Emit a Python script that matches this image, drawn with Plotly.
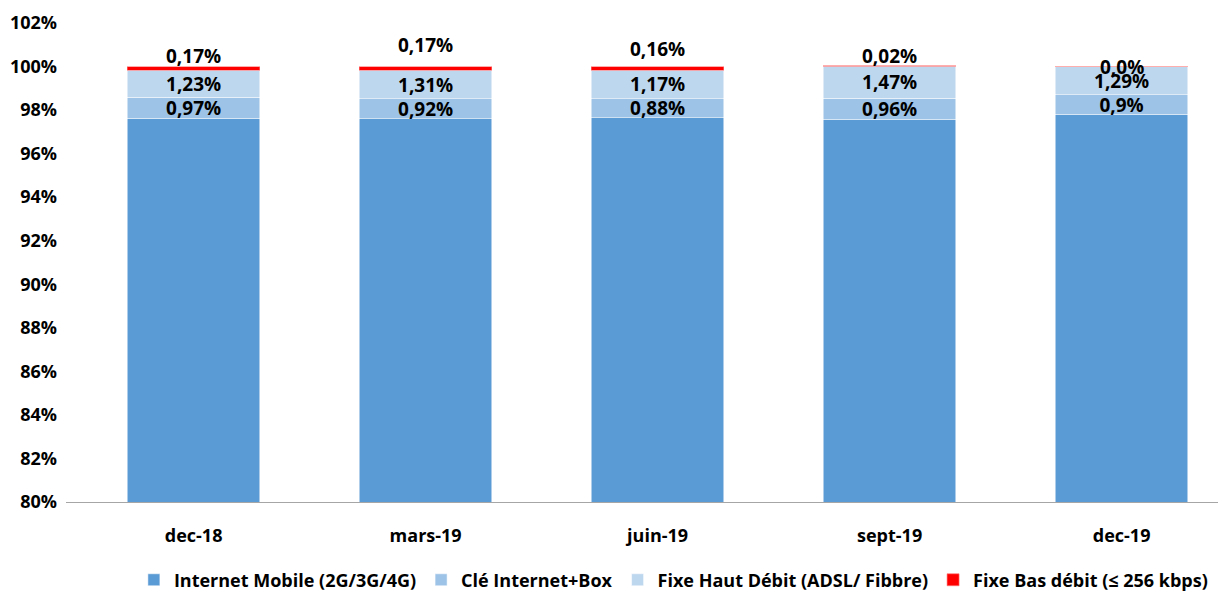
import plotly.graph_objects as go

categories = ["dec-18", "mars-19", "juin-19", "sept-19", "dec-19"]

mobile = [97.63, 97.60, 97.64, 97.58, 97.8]
cle = [0.97, 0.92, 0.88, 0.96, 0.9]
# juin-19 segment is drawn up to 100% in the picture (its label reads 1,17%)
haut = [1.23, 1.31, 1.32, 1.47, 1.29]
bas = [0.17, 0.17, 0.16, 0.02, 0.0]

mobile_lbl = ["97,63%", "97,60%", "97,64%", "97,58%", "97,8%"]
cle_lbl = ["0,97%", "0,92%", "0,88%", "0,96%", "0,9%"]
haut_lbl = ["1,23%", "1,31%", "1,17%", "1,47%", "1,29%"]
bas_lbl = ["0,17%", "0,17%", "0,16%", "0,02%", "0,0%"]

tick_vals = [80, 82, 84, 86, 88, 90, 92, 94, 96, 98, 100, 102]
tick_text = [f"{v}%" for v in tick_vals]

FONT = "Open Sans"
LBL = dict(family=FONT, size=19, color="black", weight="bold")

# hairline segments look pink in the reference (anti-aliased red)
bas_fill = ["#FF0000", "#FF0000", "#FF0000", "#FF9A9A", "#FF9A9A"]

series = [
    ("Internet Mobile (2G/3G/4G)", mobile, mobile_lbl, "#5B9BD5"),
    ("Clé Internet+Box", cle, cle_lbl, "#9DC3E6"),
    ("Fixe Haut Débit (ADSL/ Fibbre)", haut, haut_lbl, "#BDD7EE"),
]

fig = go.Figure()
for name, vals, lbls, col in series:
    fig.add_trace(go.Bar(
        x=categories, y=vals, name=name,
        marker=dict(color=col, line=dict(color="white", width=0.5)),
        text=lbls, textposition="inside", insidetextanchor="middle",
        textfont=LBL, constraintext="none",
    ))
fig.add_trace(go.Bar(
    x=categories, y=bas, name="Fixe Bas débit (≤ 256 kbps)",
    marker=dict(color=bas_fill, line=dict(color="rgba(255,120,120,0.6)", width=1)),
    textposition="none",
))

# labels for the thin top segment, placed above the stacks
top_shift = [11, 22, 18, 10, 0]
for k, c in enumerate(categories):
    total = mobile[k] + cle[k] + haut[k] + bas[k]
    fig.add_annotation(x=c, y=total, text=bas_lbl[k], showarrow=False,
                       yanchor="middle", yshift=top_shift[k], font=LBL)

# the page has an 8px body margin, so the figure is 8px smaller than the window
fig.update_layout(
    barmode="stack", bargap=0.43,
    width=1218, height=584,
    margin=dict(l=58, r=0, t=15, b=90, autoexpand=False),
    paper_bgcolor="white", plot_bgcolor="white",
    uniformtext=dict(minsize=19, mode="show"),
    font=dict(family=FONT, color="black"),
    legend=dict(orientation="h", x=0.5236, xanchor="center", y=-0.163, yanchor="middle",
                font=dict(family=FONT, size=18, color="black", weight="bold"),
                traceorder="normal", itemwidth=30),
    showlegend=True,
)
fig.update_xaxes(range=[-0.55, 4.45], showline=True, linecolor="#A6A6A6", linewidth=1,
                 ticks="", automargin=False,
                 tickfont=dict(family=FONT, size=18, color="black", weight="bold"),
                 ticklabelstandoff=17)
fig.update_yaxes(range=[80, 102], tickvals=tick_vals, ticktext=tick_text, showgrid=False,
                 zeroline=False, showline=False, automargin=False,
                 tickfont=dict(family=FONT, size=18, color="black", weight="bold"),
                 ticklabelstandoff=8)

fig.write_html("out.html")
